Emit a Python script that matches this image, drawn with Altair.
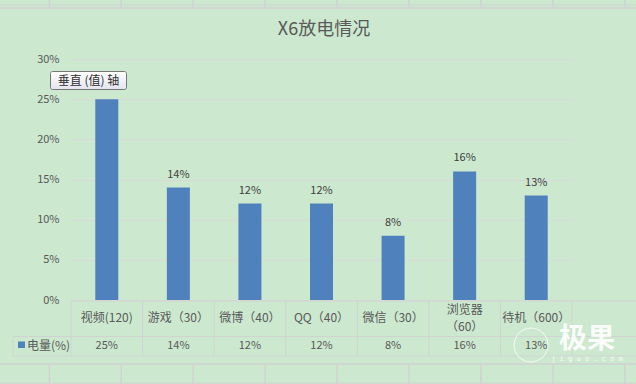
import altair as alt
import pandas as pd

# ---- data ----
categories = ["视频(120)", "游戏（30）", "微博（40）", "QQ（40）", "微信（30）", "浏览器（60）", "待机（600）"]
label_line1 = ["视频(120)", "游戏（30）", "微博（40）", "QQ（40）", "微信（30）", "浏览器", "待机（600）"]
label_line2 = ["", "", "", "", "", "（60）", ""]
values = [0.25, 0.14, 0.12, 0.12, 0.08, 0.16, 0.13]
series_name = "电量(%)"
title_text = "X6放电情况"
y_ticks = [0, 0.05, 0.10, 0.15, 0.20, 0.25, 0.30]

df = pd.DataFrame({"cat": categories, "l1": label_line1, "l2": label_line2, "value": values})
one = pd.DataFrame({"k": [0]})

W, H = 565, 241
BG = "#CCE8CF"
FONT = "Noto Sans CJK SC"
TXT = "#595959"
LINE = "#D0D4D0"
SHEET = "#D2D2D2"

xs = alt.Scale(domain=categories, range=[0, 501], paddingInner=0, paddingOuter=0)
ys = alt.Scale(domain=[0, 0.30], nice=False, zero=True)

base = alt.Chart(df)

bars = base.mark_bar(width=23, color="#4F81BD").encode(
    x=alt.X("cat:N", scale=xs, axis=None, sort=categories),
    y=alt.Y("value:Q", scale=ys, axis=alt.Axis(
        values=y_ticks, format=".0%", title=None, ticks=False, domain=False,
        labelColor=TXT, labelFontSize=11, labelFont=FONT, labelPadding=12,
        grid=True, gridColor="#D9D9D9", gridWidth=1)),
)

bar_labels = base.mark_text(baseline="middle", dy=-13, fontSize=11, font=FONT, color="#404040").encode(
    x=alt.X("cat:N", scale=xs, sort=categories),
    y=alt.Y("value:Q", scale=ys),
    text=alt.Text("value:Q", format=".0%"),
)

cat_single = base.transform_filter("datum.l2 == ''").mark_text(
    baseline="middle", fontSize=12, font=FONT, color=TXT).encode(
    x=alt.X("cat:N", scale=xs, sort=categories),
    y=alt.value(259),
    text="l1:N",
)
cat_top = base.transform_filter("datum.l2 != ''").mark_text(
    baseline="middle", fontSize=12, font=FONT, color=TXT).encode(
    x=alt.X("cat:N", scale=xs, sort=categories),
    y=alt.value(251),
    text="l1:N",
)
cat_bot = base.transform_filter("datum.l2 != ''").mark_text(
    baseline="middle", fontSize=12, font=FONT, color=TXT).encode(
    x=alt.X("cat:N", scale=xs, sort=categories),
    y=alt.value(268),
    text="l2:N",
)

val_text = base.mark_text(baseline="middle", fontSize=11, font=FONT, color=TXT).encode(
    x=alt.X("cat:N", scale=xs, sort=categories),
    y=alt.value(286.5),
    text=alt.Text("value:Q", format=".0%"),
)

# table vertical lines (band edges)
vlines = base.mark_rule(color=LINE, strokeWidth=1).encode(
    x=alt.X("cat:N", scale=xs, sort=categories, bandPosition=0),
    y=alt.value(242), y2=alt.value(297),
)
vlast = alt.Chart(df.tail(1)).mark_rule(color=LINE, strokeWidth=1).encode(
    x=alt.X("cat:N", scale=xs, sort=categories, bandPosition=1),
    y=alt.value(242), y2=alt.value(297),
)

dec = alt.Chart(one)
layers = [bars, bar_labels, vlines, vlast]

# table horizontal lines
for yy, x0 in [(242, 0), (277.5, -58), (297, -58)]:
    layers.append(dec.mark_rule(color=LINE, strokeWidth=1).encode(
        x=alt.value(x0), x2=alt.value(W), y=alt.value(yy)))
layers.append(dec.mark_rule(color=LINE, strokeWidth=1).encode(
    x=alt.value(-58), y=alt.value(277.5), y2=alt.value(297)))

# spreadsheet grid lines (background sheet)
for yy, sw in [(-54, 1), (-51, 1.5), (305, 1.5), (324, 1)]:
    layers.append(dec.mark_rule(color=SHEET, strokeWidth=sw).encode(
        x=alt.value(-71), x2=alt.value(W), y=alt.value(yy)))
for k in range(9):
    gx = 49.3 + 71.95 * k - 71
    layers.append(dec.mark_rule(color=SHEET, strokeWidth=1.5).encode(
        x=alt.value(gx), y=alt.value(-59), y2=alt.value(-51)))
    layers.append(dec.mark_rule(color=SHEET, strokeWidth=1.5).encode(
        x=alt.value(gx), y=alt.value(305), y2=alt.value(325)))

# legend key + name
layers.append(dec.mark_rect(color="#4F81BD").encode(
    x=alt.value(-53), x2=alt.value(-46), y=alt.value(282.5), y2=alt.value(289)))
layers.append(dec.mark_text(align="left", baseline="middle", fontSize=12, font=FONT, color=TXT).encode(
    x=alt.value(-44), y=alt.value(286.5), text=alt.value(series_name)))

# title
layers.append(dec.mark_text(align="center", baseline="middle", fontSize=18, font=FONT, color=TXT).encode(
    x=alt.value(253), y=alt.value(-29), text=alt.value(title_text)))

# tooltip box "垂直 (值) 轴"
grad = alt.LinearGradient(gradient="linear", x1=0, y1=0, x2=0, y2=1,
                          stops=[alt.GradientStop(color="#FFFFFF", offset=0),
                                 alt.GradientStop(color="#E4E4F0", offset=1)])
layers.append(dec.mark_rect(fill=grad, stroke="#767676", strokeWidth=1, cornerRadius=2).encode(
    x=alt.value(-20.5), x2=alt.value(55.5), y=alt.value(12.5), y2=alt.value(30.5)))
layers.append(dec.mark_text(align="center", baseline="middle", fontSize=12, font=FONT, color="#303030").encode(
    x=alt.value(17.5), y=alt.value(21.5), text=alt.value("垂直 (值) 轴")))

# watermark
layers.append(dec.mark_point(shape="circle", filled=False, color="white", strokeWidth=1, opacity=0.85, size=1150).encode(
    x=alt.value(460), y=alt.value(286)))
layers.append(dec.mark_text(align="center", baseline="middle", fontSize=28, font=FONT, fontWeight="bold", color="white", opacity=0.9).encode(
    x=alt.value(516), y=alt.value(281), text=alt.value("极果")))
layers.append(dec.mark_text(align="center", baseline="middle", fontSize=7, font="DejaVu Sans Mono", color="white", opacity=0.9).encode(
    x=alt.value(516), y=alt.value(300), text=alt.value("j i g u o . c o m")))

layers += [cat_single, cat_top, cat_bot, val_text]

chart = alt.layer(*layers).properties(
    width=W, height=H,
    background=BG,
    padding={"left": 71, "top": 59, "right": 0, "bottom": 84},
    autosize=alt.AutoSizeParams(type="none"),
).configure_view(stroke=None)

chart.save("out.html", embed_options={"renderer": "svg", "actions": False})
